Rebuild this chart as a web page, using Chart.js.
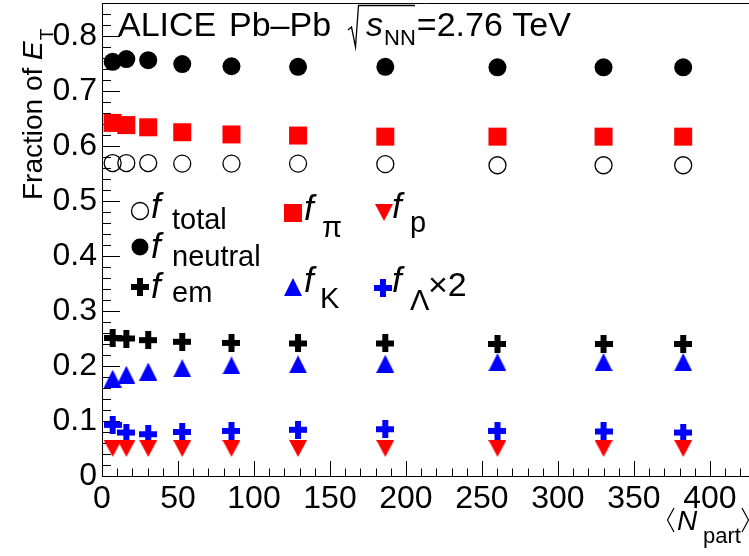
<!DOCTYPE html>
<html>
<head>
<meta charset="utf-8">
<script src="https://cdn.jsdelivr.net/npm/chart.js@4.4.1/dist/chart.umd.min.js"></script>
<style>
  html, body { margin: 0; padding: 0; background: #fff; overflow: hidden; }
  canvas { display: block; }
</style>
</head>
<body>
<canvas id="c" width="749" height="556"></canvas>
<script>
// <N_part> per centrality class
const nPart = [7.0, 16.0, 30.4, 52.8, 85.2, 129.0, 186.4, 260.2, 330.0, 382.4];

// fractions of E_T
const fTotal   = [0.569, 0.569, 0.569, 0.568, 0.568, 0.568, 0.567, 0.565, 0.565, 0.565];
const fNeutral = [0.753, 0.758, 0.756, 0.749, 0.745, 0.744, 0.744, 0.743, 0.743, 0.743];
const fEm      = [0.251, 0.250, 0.247, 0.244, 0.242, 0.241, 0.241, 0.240, 0.240, 0.240];
const fPi      = [0.642, 0.638, 0.634, 0.625, 0.621, 0.619, 0.617, 0.617, 0.617, 0.617];
const fK       = [0.177, 0.184, 0.190, 0.196, 0.201, 0.203, 0.204, 0.207, 0.207, 0.207];
const fP       = [0.050, 0.050, 0.050, 0.050, 0.050, 0.050, 0.050, 0.050, 0.050, 0.050];
const fLambda2 = [0.093, 0.079, 0.076, 0.080, 0.082, 0.084, 0.085, 0.082, 0.081, 0.079];

const FONT = "'Liberation Sans', Arial, Helvetica, sans-serif";
const RED = "#ff0000", BLUE = "#0000ff";

function pts(ys) { return nPart.map((x, i) => ({ x: x, y: ys[i] })); }

// ROOT-like markers
function mk(w, h, draw) {
  const c = document.createElement("canvas");
  c.width = w; c.height = h;
  draw(c.getContext("2d"));
  return c;
}
function crossMarker(col) {
  return mk(18, 18, g => { g.fillStyle = col; g.fillRect(0, 6, 18, 6); g.fillRect(6, 0, 6, 18); });
}
const triUp = mk(18, 18, g => { g.fillStyle = BLUE; g.beginPath(); g.moveTo(0, 18); g.lineTo(18, 18); g.lineTo(9, 0); g.closePath(); g.fill(); });
const triDown = mk(18, 17, g => { g.fillStyle = RED; g.beginPath(); g.moveTo(0, 0); g.lineTo(18, 0); g.lineTo(9, 17); g.closePath(); g.fill(); });
const crossBlack = crossMarker("#000");
const crossBlue = crossMarker(BLUE);

function ds(label, ys, style, color, extra) {
  return Object.assign({
    label: label, data: pts(ys), showLine: false,
    pointStyle: style, pointRadius: 9, pointHoverRadius: 9,
    pointBackgroundColor: color, pointBorderColor: color, pointBorderWidth: 0
  }, extra || {});
}

function txt(g, s, x, y, size, italic, align) {
  g.font = (italic ? "italic " : "") + size + "px " + FONT;
  g.textAlign = align || "left";
  g.textBaseline = "alphabetic";
  g.fillText(s, x, y);
  return g.measureText(s).width;
}

function noPad(s) { s.paddingLeft = 0; s.paddingRight = 0; s.paddingTop = 0; s.paddingBottom = 0; }

const decor = {
  id: "decor",
  beforeDatasetsDraw(chart) {
    const g = chart.ctx, a = chart.chartArea;
    const xs = chart.scales.x, ys = chart.scales.y;
    g.save();
    g.strokeStyle = "#000";
    g.lineWidth = 1;
    g.beginPath();
    // top frame
    g.moveTo(a.left, a.top + 0.5); g.lineTo(a.right, a.top + 0.5);
    // x ticks, inside
    for (let v = 0; v <= xs.max; v += 10) {
      const px = Math.round(xs.getPixelForValue(v)) + 0.5;
      const len = v % 50 === 0 ? 15 : 7.5;
      g.moveTo(px, a.bottom); g.lineTo(px, a.bottom - len);
    }
    // y ticks, inside
    for (let k = 0; k * 0.02 <= ys.max + 1e-9; k++) {
      const py = Math.round(ys.getPixelForValue(k * 0.02)) + 0.5;
      const len = k % 5 === 0 ? 18 : 9;
      g.moveTo(a.left, py); g.lineTo(a.left + len, py);
    }
    g.stroke();
    g.restore();
  },
  afterDraw(chart) {
    const g = chart.ctx;
    g.save();
    g.fillStyle = "#000";

    // header
    txt(g, "ALICE", 118, 36, 34, false);
    txt(g, "Pb\u2013Pb", 229, 36, 34, false);
    g.strokeStyle = "#000"; g.lineWidth = 1.3;
    g.beginPath();
    g.moveTo(348, 30); g.lineTo(351.5, 27); g.lineTo(355.5, 47); g.lineTo(358.5, 5.5); g.lineTo(415, 5.5);
    g.stroke();
    let x = 366;
    x += txt(g, "s", x, 36, 34, true);
    x += txt(g, "NN", x + 1, 45, 22, false) + 1;
    txt(g, "=2.76 TeV", x + 1, 36, 34, false);

    // y title
    g.save();
    g.translate(42, 200);
    g.rotate(-Math.PI / 2);
    let w = txt(g, "Fraction of ", 0, 0, 28, false);
    w += txt(g, "E", w, 0, 28, true);
    txt(g, "T", w + 1, 11, 19, false);
    g.restore();

    // x title
    g.beginPath();
    g.lineWidth = 1.2;
    g.moveTo(674, 508); g.lineTo(667.5, 520); g.lineTo(674, 532);
    g.moveTo(742, 508); g.lineTo(748.5, 520); g.lineTo(742, 532);
    g.stroke();
    txt(g, "N", 677, 530, 28, true);
    txt(g, "part", 703, 543, 22, false);

    // legend
    function circ(cx, cy, fill) {
      g.beginPath(); g.arc(cx, cy, 8.5, 0, Math.PI * 2);
      if (fill) { g.fillStyle = "#000"; g.fill(); }
      else { g.lineWidth = 1.3; g.strokeStyle = "#000"; g.stroke(); }
    }
    function img(c, cx, cy) { g.drawImage(c, Math.round(cx - c.width / 2), Math.round(cy - c.height / 2)); }

    circ(140, 211, false);
    circ(140, 247, true);
    img(crossBlack, 140, 287);
    g.fillStyle = RED; g.fillRect(284, 204, 18, 18);
    img(triUp, 293, 287);
    img(triDown, 384, 212);
    img(crossBlue, 383, 288);

    g.fillStyle = "#000";
    const entries = [
      [151, 218, "total", 172, 229],
      [151, 258, "neutral", 172, 266],
      [151, 298, "em", 172, 302],
      [304, 220, "\u03c0", 322, 237],
      [304, 292, "K", 320, 308],
      [392, 218, "p", 410, 232],
      [392, 292, "\u039b", 410, 310]
    ];
    for (const e of entries) {
      txt(g, "f", e[0], e[1], 35, true);
      txt(g, e[2], e[3], e[4], 29, false);
    }
    txt(g, "\u00d72", 428, 296, 34, false);
    g.restore();
  }
};

new Chart(document.getElementById("c").getContext("2d"), {
  type: "scatter",
  data: {
    datasets: [
      ds("f_p", fP, triDown, RED),
      ds("f_Lambda x2", fLambda2, crossBlue, BLUE),
      ds("f_K", fK, triUp, BLUE),
      ds("f_em", fEm, crossBlack, "#000"),
      ds("f_total", fTotal, "circle", "#000", { pointBackgroundColor: "rgba(0,0,0,0)", pointBorderWidth: 1.3, pointRadius: 8.5 }),
      ds("f_pi", fPi, "rect", RED, { pointRadius: 12.73 }),
      ds("f_neutral", fNeutral, "circle", "#000")
    ]
  },
  options: {
    responsive: false,
    animation: false,
    devicePixelRatio: 1,
    layout: { autoPadding: false, padding: { top: 3, right: 0, left: 0, bottom: 0 } },
    plugins: { legend: { display: false }, tooltip: { enabled: false } },
    scales: {
      x: {
        type: "linear",
        min: 0,
        max: 425.7,
        afterFit: s => { s.height = 80; noPad(s); },
        grid: { display: false, drawTicks: false },
        border: { display: true, color: "#000", width: 1 },
        ticks: {
          stepSize: 50, includeBounds: false, autoSkip: false, maxRotation: 0,
          padding: 4, color: "#000", font: { family: FONT, size: 32 }
        }
      },
      y: {
        min: 0,
        max: 0.86,
        afterFit: s => { s.width = 102; noPad(s); },
        grid: { display: false, drawTicks: false },
        border: { display: true, color: "#000", width: 1 },
        ticks: {
          stepSize: 0.1, includeBounds: false, autoSkip: false,
          padding: 5, color: "#000", font: { family: FONT, size: 32 },
          callback: v => (Math.abs(v) < 1e-9 ? "0" : v.toFixed(1))
        }
      }
    }
  },
  plugins: [decor]
});
</script>
</body>
</html>
